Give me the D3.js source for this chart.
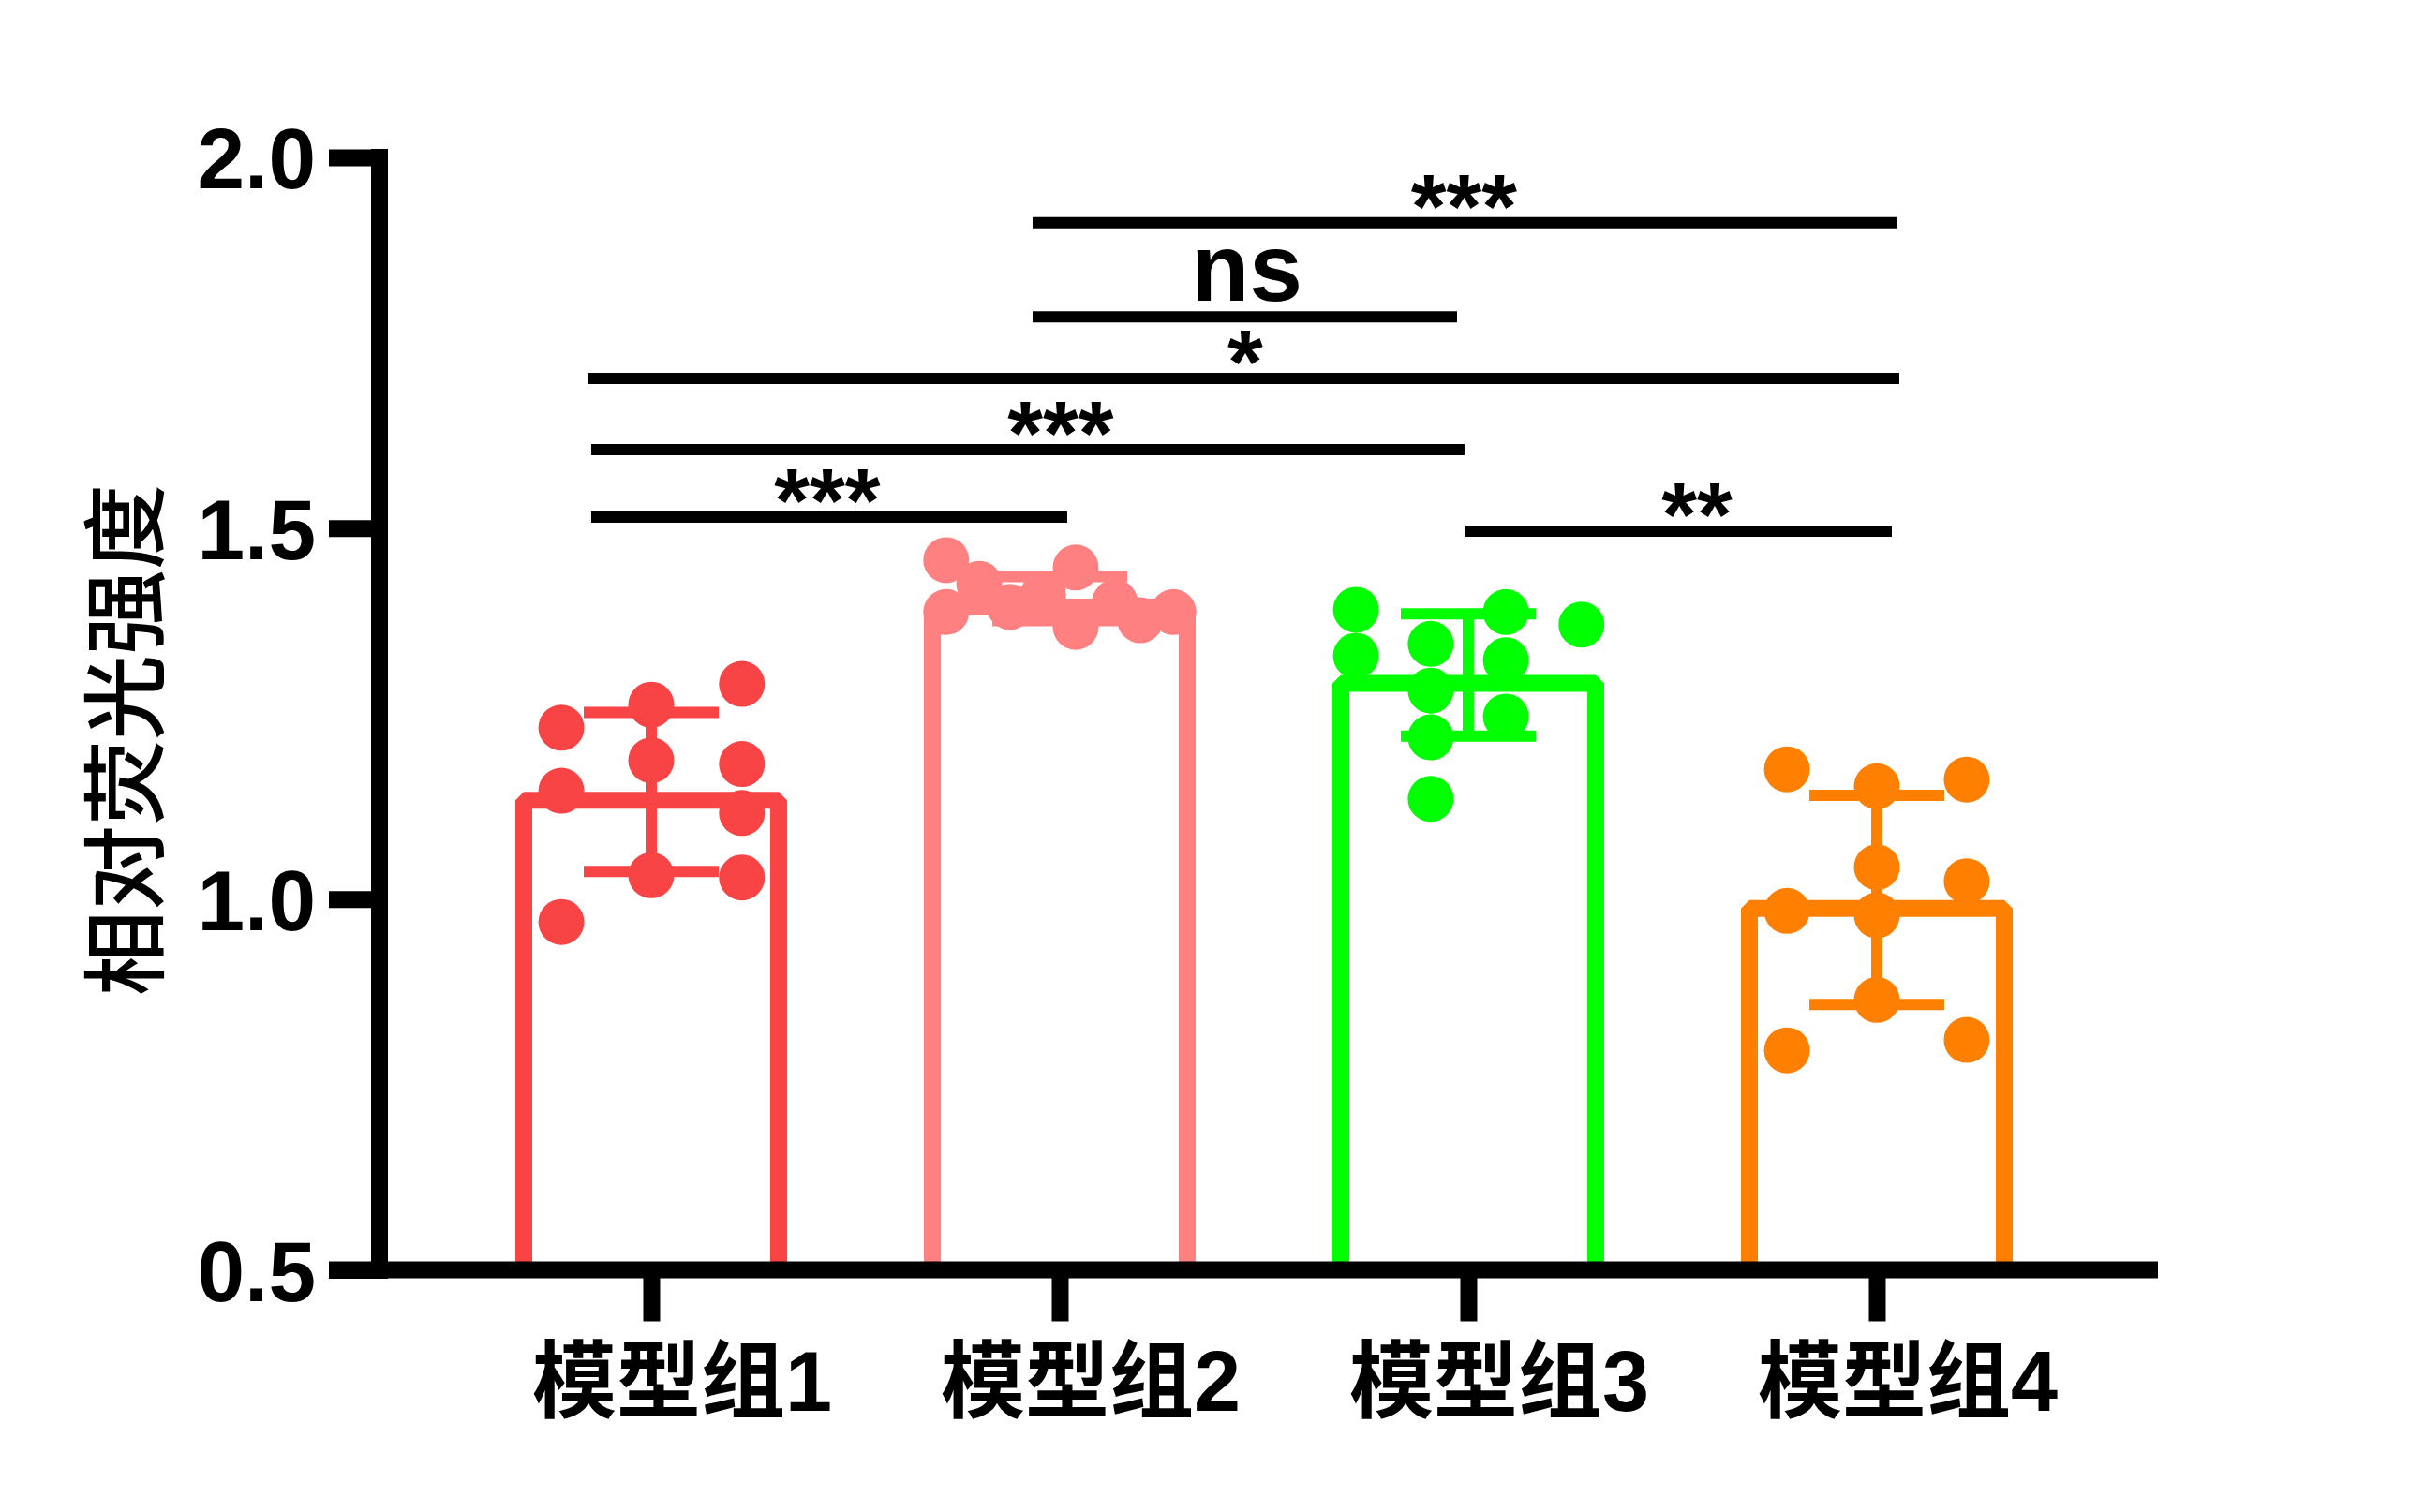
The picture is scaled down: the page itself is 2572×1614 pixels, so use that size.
<!DOCTYPE html>
<html>
<head>
<meta charset="utf-8">
<script src="https://cdn.jsdelivr.net/npm/d3@7/dist/d3.min.js"></script>
<style>
  html, body { margin: 0; padding: 0; background: #fff; }
  svg { display: block; }
</style>
</head>
<body>
<svg id="chart" width="2572" height="1614"></svg>
<script>
// ---------------- data ----------------
const categories = ["模型组1", "模型组2", "模型组3", "模型组4"];
const colors = ["#F84444", "#FF8080", "#00FF00", "#FF8000"];

const group1 = [1.231, 1.146, 0.969, 1.262, 1.187, 1.032, 1.290, 1.182, 1.116, 1.029];
const group2 = [1.457, 1.387, 1.425, 1.394, 1.447, 1.367, 1.400, 1.376, 1.387, 1.410];
const group3 = [1.390, 1.328, 1.344, 1.281, 1.218, 1.135, 1.387, 1.322, 1.246, 1.370];
const group4 = [1.175, 0.984, 0.796, 1.152, 1.043, 0.978, 0.864, 1.161, 1.024, 0.810];

// horizontal scatter lane of each point (fraction of group step)
const jitter1 = [-0.220, -0.220, -0.220, 0, 0, 0, 0.222, 0.222, 0.222, 0.222];
const jitter2 = [-0.278, -0.278, -0.197, -0.122, 0.039, 0.039, 0.135, 0.197, 0.278, -0.041];
const jitter3 = [-0.275, -0.275, -0.092, -0.092, -0.092, -0.092, 0.092, 0.092, 0.092, 0.277];
const jitter4 = [-0.220, -0.220, -0.220, 0, 0, 0, 0, 0.220, 0.220, 0.220];

const yTicks = [0.5, 1.0, 1.5, 2.0];
const yLabel = "相对荧光强度";

// significance comparisons: group a vs group b, label, bracket height (data units)
const compA = [0, 0, 0, 1, 1, 2];
const compB = [1, 2, 3, 2, 3, 3];
const compLabel = ["***", "***", "*", "ns", "***", "**"];
const compLevel = [1.515, 1.606, 1.702, 1.785, 1.912, 1.496];

// ---------------- layout ----------------
const groups = [group1, group2, group3, group4];
const jitters = [jitter1, jitter2, jitter3, jitter4];
// bracket end offsets (px from group centre) and label shift – layout only
const compLayout = [
  {l: -64, r: 8,  dx: -2},
  {l: -64, r: -4, dx: 35},
  {l: -68, r: 24, dx: 2},
  {l: -29, r: -12, dx: 2},
  {l: -29, r: 22, dx: -1},
  {l: -4,  r: 16, dx: 20}
];

const yTop = 168, yBot = 1355.5, xLeft = 405, xRight = 2303;
const axisW = 18, barSW = 18, errSW = 12, capHalf = 72, barHalf = 145, dotR = 24.5;

const svg = d3.select("#chart");
const y = d3.scaleLinear().domain([0.5, 2.0]).range([yBot, yTop]);
const x = d3.scalePoint().domain(categories).range([xLeft, xRight]).padding(0.6766).align(0.4915);
const step = x.step();

const stats = groups.map((g, i) => ({
  cat: categories[i],
  color: colors[i],
  mean: d3.mean(g),
  sd: d3.deviation(g),
  values: g,
  jit: jitters[i]
}));

// bars (open, stroked, bevelled corners; outer top edge = mean)
const gBars = svg.append("g");
stats.forEach(s => {
  const xc = x(s.cat);
  const x0 = xc - barHalf + barSW / 2, x1 = xc + barHalf - barSW / 2;
  const yt = y(s.mean) + barSW / 2;
  const p = d3.path();
  p.moveTo(x0, yBot);
  p.lineTo(x0, yt);
  p.lineTo(x1, yt);
  p.lineTo(x1, yBot);
  gBars.append("path")
    .attr("d", p.toString())
    .attr("fill", "none")
    .attr("stroke", s.color)
    .attr("stroke-width", barSW)
    .attr("stroke-linejoin", "bevel");
});

// error bars (mean ± SD)
const gErr = svg.append("g");
stats.forEach(s => {
  const xc = x(s.cat);
  const yHi = y(s.mean + s.sd), yLo = y(s.mean - s.sd);
  gErr.append("line").attr("x1", xc).attr("x2", xc).attr("y1", yHi).attr("y2", yLo)
    .attr("stroke", s.color).attr("stroke-width", errSW);
  [yHi, yLo].forEach(yy => {
    gErr.append("line").attr("x1", xc - capHalf).attr("x2", xc + capHalf)
      .attr("y1", yy).attr("y2", yy)
      .attr("stroke", s.color).attr("stroke-width", errSW);
  });
});

// dots
const gDots = svg.append("g");
stats.forEach(s => {
  gDots.selectAll(null)
    .data(s.values.map((v, i) => ({v, j: s.jit[i]})))
    .join("circle")
    .attr("cx", d => x(s.cat) + d.j * step)
    .attr("cy", d => y(d.v))
    .attr("r", dotR)
    .attr("fill", s.color);
});

// y axis
const yAxis = d3.axisLeft(y).tickValues(yTicks).tickFormat(d3.format(".1f"))
  .tickSize(54).tickSizeOuter(0).tickPadding(14);
const gY = svg.append("g").attr("transform", `translate(${xLeft},0)`).call(yAxis);
gY.select(".domain").remove();
gY.selectAll(".tick line")
  .attr("x1", axisW / 2)
  .attr("stroke", "#000").attr("stroke-width", axisW);
gY.selectAll(".tick text")
  .attr("font-family", "'Liberation Sans', Arial, sans-serif")
  .attr("font-weight", "bold")
  .attr("font-size", 91)
  .attr("fill", "#000")
  .attr("dy", "0.36em");
svg.append("line")
  .attr("x1", xLeft).attr("x2", xLeft)
  .attr("y1", yTop - axisW / 2).attr("y2", yBot + axisW / 2)
  .attr("stroke", "#000").attr("stroke-width", axisW);

// x axis
const xAxis = d3.axisBottom(x).tickSize(55).tickSizeOuter(0).tickPadding(0).tickFormat(() => "");
const gX = svg.append("g").attr("transform", `translate(0,${yBot})`).call(xAxis);
gX.select(".domain").remove();
gX.selectAll(".tick line").attr("stroke", "#000").attr("stroke-width", axisW);
svg.append("line")
  .attr("x1", xLeft - 54).attr("x2", xRight)
  .attr("y1", yBot).attr("y2", yBot)
  .attr("stroke", "#000").attr("stroke-width", axisW);

// x category labels
svg.append("g").selectAll("text")
  .data(categories)
  .join("text")
  .attr("x", d => x(d) + 33)
  .attr("y", 1506)
  .attr("text-anchor", "middle")
  .attr("font-family", "'Liberation Sans', 'Noto Sans CJK SC', sans-serif")
  .attr("font-weight", "bold")
  .attr("font-size", 90)
  .attr("fill", "#000")
  .text(d => d);

// y axis title
svg.append("text")
  .attr("transform", `translate(134,790) rotate(-90)`)
  .attr("text-anchor", "middle")
  .attr("dy", "0.36em")
  .attr("font-family", "'Noto Sans CJK SC', sans-serif")
  .attr("font-weight", 500)
  .attr("font-size", 91)
  .attr("fill", "#000")
  .text(yLabel);

// significance brackets
const gSig = svg.append("g");
compA.forEach((a, i) => {
  const b = compB[i];
  const L = compLayout[i];
  const xa = x(categories[a]) + L.l, xb = x(categories[b]) + L.r;
  const yy = y(compLevel[i]);
  gSig.append("line").attr("x1", xa).attr("x2", xb).attr("y1", yy).attr("y2", yy)
    .attr("stroke", "#000").attr("stroke-width", errSW);
  const isNs = compLabel[i] === "ns";
  gSig.append("text")
    .attr("x", (xa + xb) / 2 + L.dx)
    .attr("y", isNs ? yy - 17 : yy + 16)
    .attr("text-anchor", "middle")
    .attr("font-family", "'Liberation Sans', Arial, sans-serif")
    .attr("font-weight", "bold")
    .attr("font-size", isNs ? 102 : 97)
    .attr("fill", "#000")
    .text(compLabel[i]);
});
</script>
</body>
</html>
